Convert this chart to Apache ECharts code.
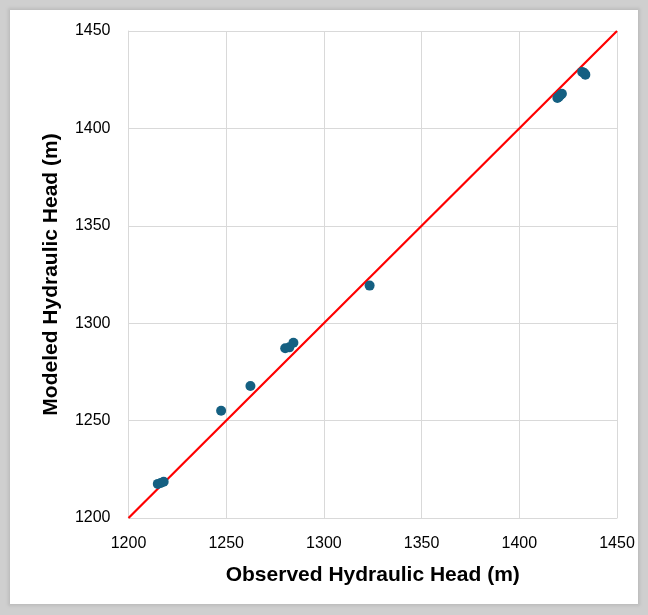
<!DOCTYPE html>
<html>
<head>
<meta charset="utf-8">
<script src="https://cdn.jsdelivr.net/npm/echarts@6/dist/echarts.min.js"></script>
<style>
  html, body { margin: 0; padding: 0; }
  body { width: 648px; height: 615px; background: #cfcfcf; position: relative; overflow: hidden; }
  #frame { position: absolute; left: 10px; top: 10px; width: 628px; height: 594px; background: #fff;
           box-shadow: 0 0 3px 2px #bdbdbd; }
  #main { position: absolute; left: 0; top: 0; width: 648px; height: 615px; }
</style>
</head>
<body>
<div id="frame"></div>
<div id="main"></div>
<script>
// observed vs modeled heads (m)
var observed = [1215, 1216.5, 1218, 1247.4, 1262.4, 1280.2, 1282.3, 1284.4, 1323.4,
                1419.5, 1420.2, 1421, 1421.8, 1432.2, 1433.2, 1433.8];
var modeled  = [1217.5, 1218, 1218.6, 1255.1, 1267.8, 1287.1, 1287.6, 1290, 1319.3,
                1415.6, 1416.2, 1417, 1417.8, 1429, 1428.4, 1427.6];
// 1:1 line ends
var oneToOne = [1200, 1450];
var axisMin = 1200, axisMax = 1450, axisStep = 50;

var pts = [];
for (var i = 0; i < observed.length; i++) { pts.push([observed[i], modeled[i]]); }
var line = [];
for (var j = 0; j < oneToOne.length; j++) { line.push([oneToOne[j], oneToOne[j]]); }

var myChart = echarts.init(document.getElementById('main'));
var font = 'Liberation Sans, Arial, sans-serif';
var lbl = { color: '#000', fontSize: 16, fontFamily: font, formatter: function (v) { return String(v); } };
var option = {
  animation: false,
  grid: { left: 128.5, right: 31, top: 31, bottom: 97 },
  xAxis: {
    type: 'value', min: axisMin, max: axisMax, interval: axisStep,
    name: 'Observed Hydraulic Head (m)', nameLocation: 'middle', nameGap: 47,
    nameTextStyle: { fontSize: 21, fontWeight: 'bold', color: '#000', fontFamily: font },
    axisLine: { lineStyle: { color: '#d9d9d9', width: 1 } },
    axisTick: { show: false },
    axisLabel: Object.assign({ margin: 18 }, lbl),
    splitLine: { show: true, lineStyle: { color: '#d9d9d9', width: 1 } }
  },
  yAxis: {
    type: 'value', min: axisMin, max: axisMax, interval: axisStep,
    name: 'Modeled Hydraulic Head (m)', nameLocation: 'middle', nameGap: 67,
    nameTextStyle: { fontSize: 21, fontWeight: 'bold', color: '#000', fontFamily: font },
    axisLine: { show: true, lineStyle: { color: '#d9d9d9', width: 1 } },
    axisTick: { show: false },
    axisLabel: Object.assign({ margin: 18 }, lbl),
    splitLine: { show: true, lineStyle: { color: '#d9d9d9', width: 1 } }
  },
  series: [
    {
      type: 'line',
      data: line,
      symbol: 'none',
      lineStyle: { color: '#ff0000', width: 2.2 },
      z: 2
    },
    {
      type: 'scatter',
      data: pts,
      symbol: 'circle',
      symbolSize: 10,
      itemStyle: { color: '#156082', opacity: 1 },
      z: 3
    }
  ]
};
myChart.setOption(option);
</script>
</body>
</html>
